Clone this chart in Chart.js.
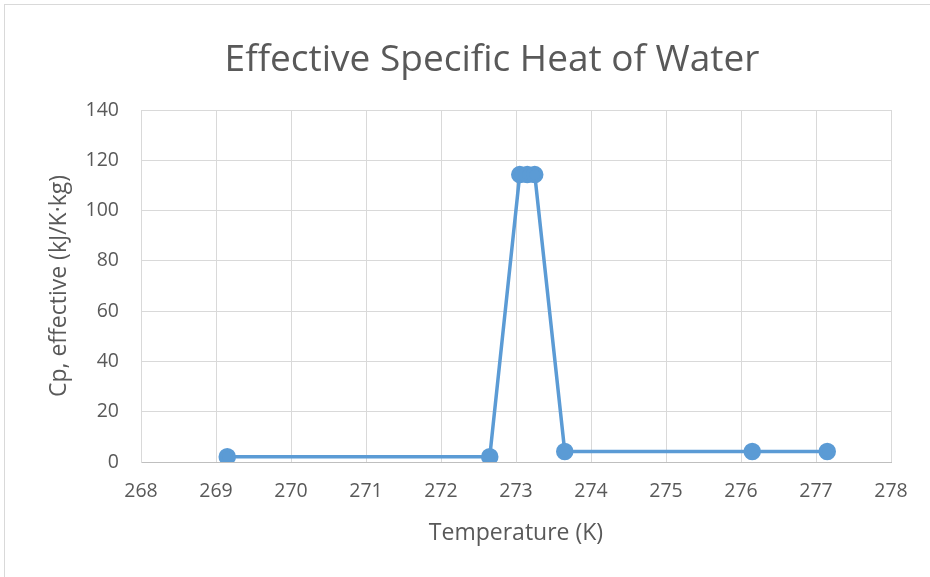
<!DOCTYPE html>
<html>
<head>
<meta charset="utf-8">
<script src="https://cdn.jsdelivr.net/npm/chart.js@4"></script>
<style>
    html, body { margin: 0; padding: 0; background: #fff; overflow: hidden; }
    #wrap { position: relative; width: 930px; height: 577px; }
    #frame { position: absolute; left: 4px; top: 4px; width: 960px; height: 620px; border: 1px solid #d9d9d9; }
    #heatChart { position: absolute; left: 0; top: 0; }
</style>
</head>
<body>
<div id="wrap">
    <div id="frame"></div>
    <canvas id="heatChart" width="930" height="577"></canvas>
</div>
<script>
// temperaturas (K) e calor especifico efetivo (kJ/K.kg)
const temperatures = [269.15, 272.65, 273.05, 273.15, 273.25, 273.65, 276.15, 277.15];
const cpEffective = [2.1, 2.1, 114.3, 114.3, 114.3, 4.18, 4.18, 4.18];

const xTicks = { min: 268, max: 278, step: 1 };
const yTicks = { min: 0, max: 140, step: 20 };

const chartTitle = 'Effective Specific Heat of Water';
const textColor = '#595959';
const fontFamily = '"Open Sans", Lato, sans-serif';

// titulo centrado no quadro inteiro, como no Excel
const frameTitle = {
    id: 'frameTitle',
    afterDraw(chart) {
        const c = chart.ctx;
        c.save();
        c.font = '37px ' + fontFamily;
        c.fillStyle = textColor;
        c.textAlign = 'center';
        c.textBaseline = 'middle';
        c.fillText(chartTitle, 492, 60);
        c.restore();
    }
};

const ctx = document.getElementById('heatChart');

new Chart(ctx, {
    type: 'scatter',
    data: {
        datasets: [{
            label: 'Cp',
            data: temperatures.map((t, i) => ({ x: t, y: cpEffective[i] })),
            showLine: true,
            borderColor: '#5b9bd5',
            backgroundColor: '#5b9bd5',
            borderWidth: 3.5,
            pointRadius: 7,
            pointHoverRadius: 7,
            tension: 0
        }]
    },
    options: {
        responsive: false,
        animation: false,
        layout: {
            padding: { left: 42, right: 39, top: 110, bottom: 26 }
        },
        plugins: {
            legend: { display: false },
            tooltip: { enabled: false },
            title: { display: false }
        },
        scales: {
            x: {
                type: 'linear',
                min: xTicks.min,
                max: xTicks.max,
                afterFit: s => { s.height = 89; },
                ticks: {
                    stepSize: xTicks.step,
                    color: textColor,
                    font: { family: fontFamily, size: 19.5 },
                    padding: 18
                },
                grid: { color: '#d9d9d9', drawTicks: false },
                border: { color: '#bfbfbf', width: 1 },
                title: {
                    display: true,
                    text: 'Temperature (K)',
                    color: textColor,
                    font: { family: fontFamily, size: 23 },
                    padding: 4
                }
            },
            y: {
                min: yTicks.min,
                max: yTicks.max,
                afterFit: s => { s.width = 99; },
                ticks: {
                    stepSize: yTicks.step,
                    color: textColor,
                    font: { family: fontFamily, size: 19.5 },
                    padding: 22
                },
                grid: { color: '#d9d9d9', drawTicks: false },
                border: { color: '#d9d9d9', width: 1 },
                title: {
                    display: true,
                    text: 'Cp, effective (kJ/K·kg)',
                    color: textColor,
                    font: { family: fontFamily, size: 23 },
                    padding: 4
                }
            }
        }
    },
    plugins: [frameTitle]
});
</script>
</body>
</html>
